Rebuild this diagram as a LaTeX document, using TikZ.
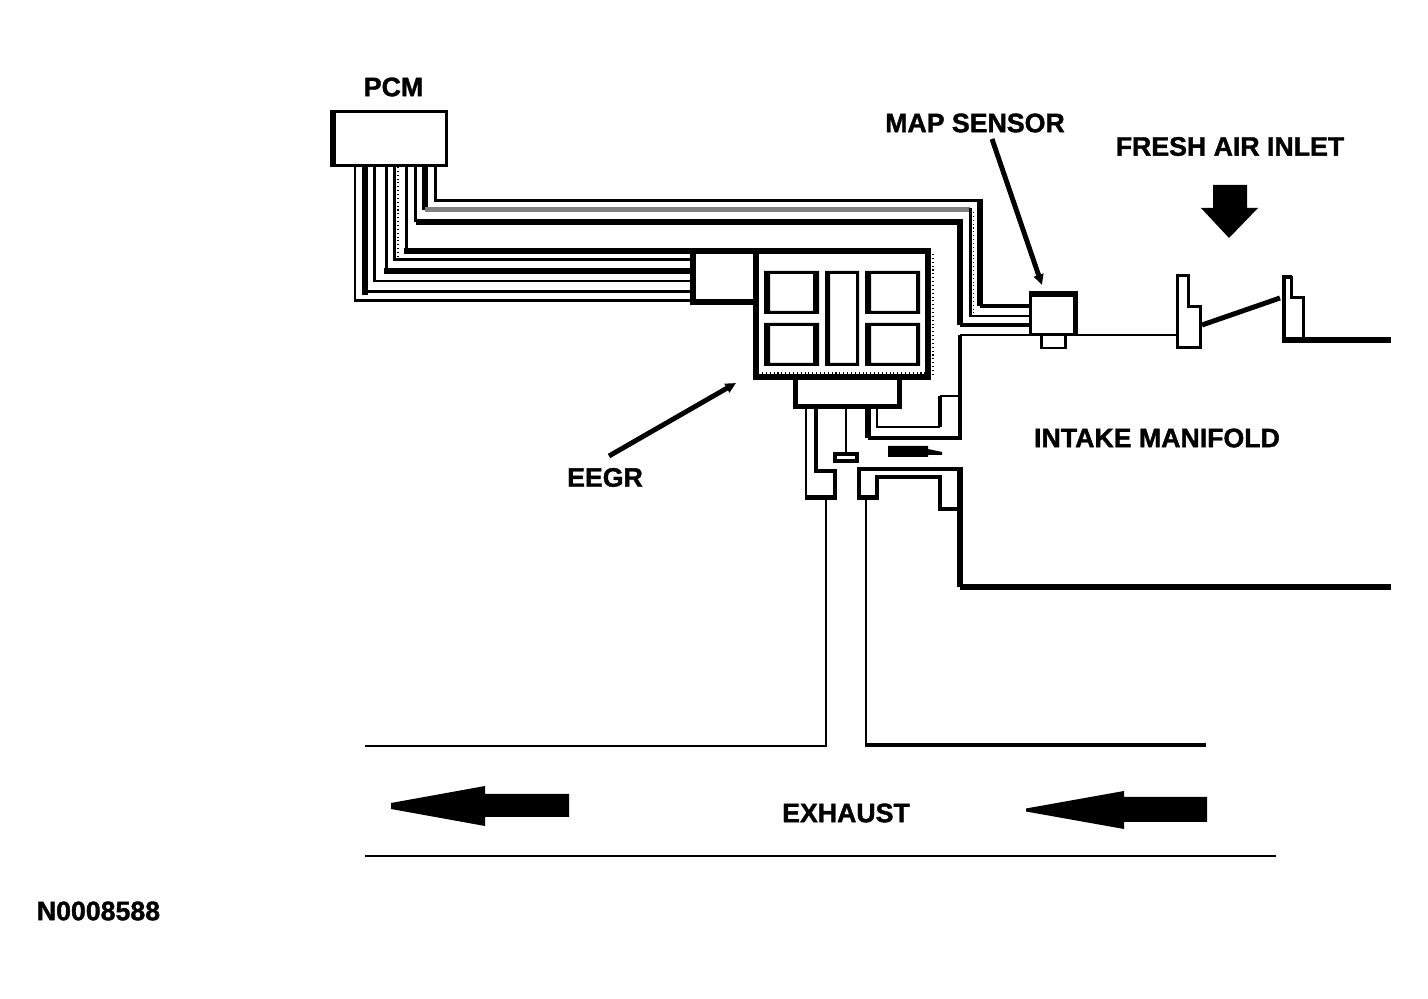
\documentclass[tikz,border=0pt]{standalone}
\usepackage{fontspec}
\setmainfont{Liberation Sans}[BoldFeatures={FakeBold=1.4}]
\usepackage{xcolor}
\usetikzlibrary{arrows.meta, positioning, calc}
\tikzset{
  wa/.style={line width=1.7pt},
  wb/.style={line width=2.83pt},
  wc/.style={line width=3.4pt},
  dith/.style={line width=.6pt, dash pattern=on .6pt off 1.6pt},
  boxa/.style={draw, inner sep=0pt, wa},
  boxc/.style={draw, inner sep=0pt, wc},
  lbl/.style={font=\fontsize{15.2}{16}\selectfont\bfseries, inner sep=0pt},
  leader/.style={line width=2.8pt, -{Stealth[length=6pt, width=5.5pt, inset=0pt]}}
}
\begin{document}
\begin{tikzpicture}[x=0.02cm, y=-0.02cm, line join=miter]
  \useasboundingbox (0,0) rectangle (1428,999);

  \node[boxa, minimum width=2.3cm, minimum height=1.08cm] (pcm) at (389,138.5) {};
  \node[boxc, minimum width=1.25cm, minimum height=1.02cm] (plug) at (724.5,276.5) {};
  \node[boxc, minimum width=3.44cm, minimum height=2.52cm] (eegr) at (842,314) {};
  \node[draw, wb, inner sep=0pt, minimum width=2.08cm, minimum height=.59cm] (neck) at (847.5,392) {};
  \node[boxa, minimum width=.92cm, minimum height=.85cm] (map) at (1053.5,313.75) {};
  \node[draw, inner sep=0pt, line width=2.2pt, minimum width=.43cm, minimum height=.15cm] (valve) at (846,457.5) {};

  \node[lbl] (pcmlabel) at (393.5,87) {PCM};
  \node[lbl] (maplabel) at (975,123) {MAP SENSOR};
  \node[lbl] (airlabel) at (1230,146.5) {FRESH AIR INLET};
  \node[lbl] (eegrlabel) at (605,477.5) {EEGR};
  \node[lbl] (intakelabel) at (1157,438) {INTAKE MANIFOLD};
  \node[lbl] (exhaustlabel) at (846,813) {EXHAUST};
  \node[lbl] (figlabel) at (98.5,911) {N0008588};

  \fill (pcm.north west) rectangle ($(pcm.south west)+(6,0)$);
  \fill (map.north west) rectangle ($(map.north east)+(0,6)$);
  \fill (map.north east) rectangle ($(map.south east)+(-5,0)$);

  \foreach \x/\y/\v/\h in {355/301/3/3, 365/292/6/3, 374.5/281/2.5/2.5,
                           386.5/271/3/6, 394.5/260/3/3, 406.5/251/3/6} {
    \draw[line width=\v*0.567pt, line cap=rect] (pcm.south -| \x,0) -- (\x,\y);
    \draw[line width=\h*0.567pt, line cap=rect] (\x,\y) -- (plug.west |- 0,\y);
  }
  \draw[dith] (pcm.south -| 398,0) -- (398,258);

  \draw[wa] (pcm.south -| 415.5,0) -- (415.5,222);
  \draw[wc] (415.5,222) -| (960,325);
  \draw[wb] (960,325) -- (map.west |- 0,325);
  \draw[wc] (pcm.south -| 425,0) -- (425,210);
  \draw[line width=2.6pt, gray] (425,209.5) -- (970,209.5);
  \draw[wa] (970,208) |- (map.west |- 0,316);
  \draw[dith] (973.5,212) -- (973.5,313);
  \draw[wa] (pcm.south -| 435.5,0) |- (983,200.5);
  \draw[wc] (980,199) -- (980,306);
  \draw[wb] (980,306) -- (map.west |- 0,306);

  \foreach \xa/\ya/\xb/\yb/\l/\r in {764/271/819/314/6/6, 764/323/819/366/6/6,
                                     865/271/920/314/6/4, 865/323/920/366/6/4,
                                     825/271/859/366/5/3} {
    \fill[even odd rule] (\xa,\ya) rectangle (\xb,\yb) (\xa+\l,\ya+3) rectangle (\xb-\r,\yb-3);
  }
  \draw[dith] (933,254) -- (933,376);
  \draw[dith] (762,373) -- (925,373);

  \draw[wa] (neck.south -| 806,0) -- (806,497);
  \draw[wb] (neck.south -| 816,0) |- (835,471) -- (835,497);
  \draw[wb] (805,497.5) -- (837,497.5);
  \draw[wa] (neck.south -| valve) -- (valve.north);

  \draw[wc] (neck.south -| 868,0) -- (868,438);
  \draw[wb] (868,438) -| (960,335);
  \draw[wa] (960,335) -- (map.south west |- 0,335);
  \draw[wa] (map.south east |- 0,335) -- (1176,335);
  \draw[wa] (neck.south -| 877,0) |- (940,427);
  \draw[wb] (940,427) -- (940,396);
  \draw[line width=1.2pt] (940,396) -- (960,396);

  \draw[wa] (1041,335) |- (1065,348) -- (1065,335);

  \fill (888,446) -- (928,446) -- (928,449) -- (942,452) -- (942,455) -- (928,455) -- (928,457) -- (888,457) -- cycle;

  \draw[wc] (960,587) -- (1391,587) (960,587) -- (960,468);
  \draw[wb] (963,469) -- (859,469) -- (859,497.5) -- (877,497.5) -- (877,477) -- (940,477) -- (940,509) -- (960,509);

  \draw[wa] (826,497) -- (826,746) -- (365,746);
  \draw[wa] (866,497) -- (866,745);
  \draw[wb] (865,745) -- (1206,745);
  \draw[wa] (365,856) -- (1276,856);

  \draw[wa] (1177,275.5) -- (1188.5,275.5) -- (1188.5,306.5) -- (1200,306.5) -- (1200,347.5) -- (1177,347.5) -- cycle;
  \draw[wb] (1202,325) -- (1280,298);
  \draw[wb] (1284,340) -- (1284,277) -- (1292,277);
  \draw[wa] (1291,276) -- (1291,298) -- (1303,298) -- (1303,340);
  \draw[wc] (1282,340) -- (1391,340);

  \fill (1213,185) -- (1247,185) -- (1247,208) -- (1258,208) -- (1229,238) -- (1201,208) -- (1213,208) -- cycle;
  \fill (391,803) -- (485,786) -- (485,794) -- (569,794) -- (569,817) -- (485,817) -- (485,826) -- (391,809) -- cycle;
  \fill (1026,808.5) -- (1124,791) -- (1124,797) -- (1207,797) -- (1207,822) -- (1124,822) -- (1124,829) -- (1026,811.5) -- cycle;

  \coordinate (maptail) at (992,139);
  \coordinate (maptip) at (1042,285);
  \coordinate (eegrtail) at (609,456);
  \coordinate (eegrtip) at (736,383);
  \draw[leader] (maptail) -- (maptip);
  \draw[leader] (eegrtail) -- (eegrtip);
\end{tikzpicture}
\end{document}
